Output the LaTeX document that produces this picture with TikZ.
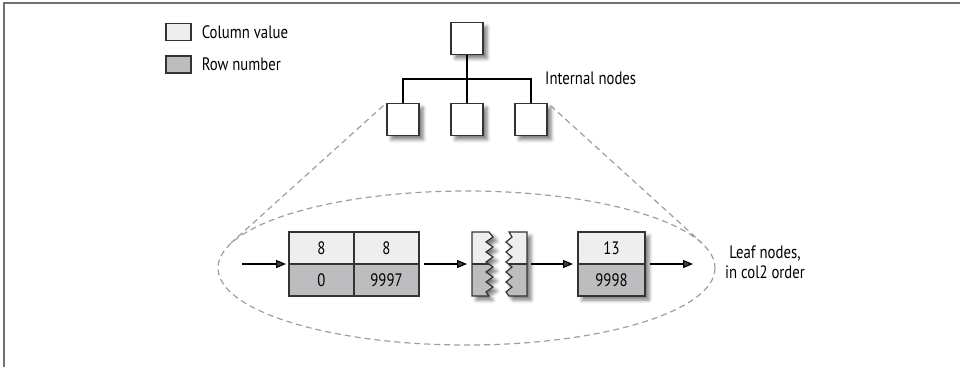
\documentclass[tikz,border=0pt]{standalone}
\usepackage{fontspec}
\setmainfont{PT Sans}[FakeStretch=0.82]
\usetikzlibrary{arrows.meta,positioning,shadows.blur,backgrounds}

\definecolor{cellhi}{HTML}{EEEEEE}
\definecolor{cellrow}{HTML}{BDBDC0}
\definecolor{edge}{HTML}{333333}
\definecolor{framegray}{HTML}{707070}

\tikzset{
    every node/.style={font=\fontsize{18}{20}\selectfont},
    softshadow/.style={blur shadow={shadow xshift=4pt, shadow yshift=-4pt, shadow opacity=50, shadow blur radius=3.5pt}},
    keybox/.style={draw=edge, line width=1.2pt, minimum width=25pt, minimum height=17pt, inner sep=0pt},
    treebox/.style={draw=edge, fill=white, line width=1.2pt, minimum size=32pt, inner sep=0pt, softshadow},
    cell/.style={draw=edge, line width=1.2pt, minimum width=65pt, minimum height=32pt, inner sep=0pt, outer sep=0pt},
    label/.style={inner sep=0pt, anchor=west},
    link/.style={line width=1.2pt, -{Triangle[length=10pt,width=8pt]}},
    zoomline/.style={draw=gray!75, line width=1.2pt, dash pattern=on 6pt off 4pt},
}

\begin{document}
\begin{tikzpicture}[x=1pt, y=-1pt]
    \useasboundingbox (0,0) rectangle (960,367);

    % 枠
    \draw[framegray, line width=2pt] (4,367) -- (4,3) -- (960,3);

    % 凡例
    \node[keybox, fill=cellhi] (keycol) at (178.5,32) {};
    \node[keybox, fill=cellrow] (keyrow) at (178.5,64.5) {};
    \node[label, right=10pt of keycol] (keycoltxt) {Column value};
    \node[label, right=10pt of keyrow] (keyrowtxt) {Row number};

    % 内部ノード
    \node[treebox] (root) at (467,38.5) {};
    \node[treebox] (inA) at (403,119.5) {};
    \node[treebox] (inB) at (467,119.5) {};
    \node[treebox] (inC) at (531,119.5) {};
    \coordinate (fork) at (467,79);
    \draw[line width=1.2pt] (root.south) -- (inB.north);
    \draw[line width=1.2pt] (inA.north) |- (fork) -| (inC.north);
    \node[label] (intlabel) at (545,78) {Internal nodes};

    % 葉の範囲
    \draw[zoomline] (466.5,268) ellipse (248.5 and 77);
    \coordinate (tanL) at (231,243);
    \coordinate (tanR) at (702,243);
    \draw[zoomline, shorten <=4pt] (inA.north west) -- (tanL);
    \draw[zoomline, shorten <=4pt] (inC.north east) -- (tanR);

    % 葉ノード 1
    \node[cell, fill=cellhi] (k1) at (321.5,248) {8};
    \node[cell, fill=cellhi, right=0pt of k1] (k2) {8};
    \node[cell, fill=cellrow, below=0pt of k1] (r1) {0};
    \node[cell, fill=cellrow, right=0pt of r1] (r2) {9997};
    \begin{scope}[on background layer]
        \path[softshadow] (k1.north west) rectangle (r2.south east);
    \end{scope}

    % 途中省略
    \node[minimum width=55pt, minimum height=64pt, inner sep=0pt, outer sep=0pt] (brk) at (499.5,264) {};
    \def\zigL{(472,232) -- (489,232) -- (493,237) -- (486,242) -- (493,247) -- (486,252) -- (493,257) -- (486,262)
        -- (493,267) -- (486,272) -- (493,277) -- (486,282) -- (493,287) -- (486,292) -- (489,296) -- (472,296) -- cycle}
    \def\zigR{(527,232) -- (509,232) -- (512,237) -- (506,242) -- (512,247) -- (506,252) -- (512,257) -- (506,262)
        -- (512,267) -- (506,272) -- (512,277) -- (506,282) -- (512,287) -- (506,292) -- (509,296) -- (527,296) -- cycle}
    \foreach \Piece in {\zigL, \zigR} {
        \path[softshadow] \Piece;
        \begin{scope}
            \clip \Piece;
            \fill[cellhi] (470,230) rectangle (530,264);
            \fill[cellrow] (470,264) rectangle (530,298);
            \draw[edge, line width=1.2pt] (470,264) -- (530,264);
        \end{scope}
        \draw[edge, line width=1.2pt, line join=miter] \Piece;
    }

    % 葉ノード 2
    \node[cell, fill=cellhi, minimum width=67pt] (k3) at (611.5,248) {13};
    \node[cell, fill=cellrow, minimum width=67pt, below=0pt of k3] (r3) {9998};
    \begin{scope}[on background layer]
        \path[softshadow] (k3.north west) rectangle (r3.south east);
    \end{scope}

    % 矢印
    \coordinate (entry) at (242,264);
    \coordinate (exit) at (693,264);
    \draw[link, shorten >=3pt] (entry) -- (k1.south west);
    \draw[link, shorten <=5pt, shorten >=5pt] (k2.south east) -- (brk.west);
    \draw[link, shorten <=4pt, shorten >=5pt] (brk.east) -- (k3.south west);
    \draw[link, shorten <=5pt] (k3.south east) -- (exit);

    \node[align=center, inner sep=0pt] (leaflabel) at (765,262) {Leaf nodes,\\in col2 order};
\end{tikzpicture}
\end{document}
